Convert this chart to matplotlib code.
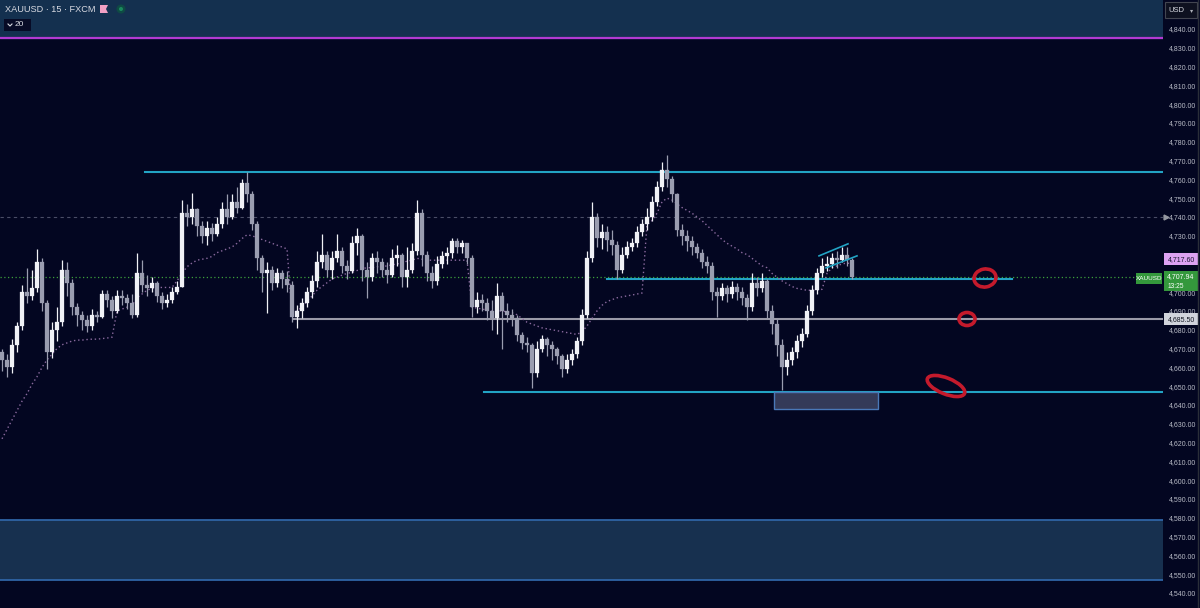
import matplotlib
matplotlib.use("Agg")
import matplotlib.pyplot as plt
import numpy as np
from matplotlib.patches import Rectangle, Ellipse, Polygon
from matplotlib.transforms import blended_transform_factory

# ---------------- data (15-min XAUUSD candles) ----------------
open_first = 4668.0
close = [4664, 4660, 4672, 4682, 4700, 4698, 4702, 4716, 4694, 4668,
         4680, 4684, 4712, 4705, 4692, 4688, 4685, 4682, 4688, 4687,
         4699, 4696, 4690, 4698, 4697, 4694, 4688, 4710, 4704, 4702,
         4705, 4698, 4694, 4696, 4700, 4703, 4742, 4740, 4744, 4735,
         4730, 4734, 4731, 4736, 4744, 4740, 4748, 4745, 4758, 4752,
         4736, 4718, 4710, 4712, 4705, 4710, 4707, 4704, 4687, 4690,
         4694, 4700, 4706, 4716, 4720, 4712, 4718, 4722, 4714, 4711,
         4726, 4730, 4712, 4708, 4718, 4716, 4712, 4709, 4718, 4720,
         4708, 4712, 4722, 4742, 4720, 4710, 4706, 4715, 4719, 4721,
         4727, 4724, 4726, 4718, 4692, 4696, 4694, 4690, 4686, 4698,
         4690, 4688, 4686, 4677, 4673, 4672, 4657, 4670, 4675, 4672,
         4670, 4666, 4659, 4664, 4667, 4674, 4688, 4718, 4740, 4729,
         4732, 4728, 4725, 4712, 4720, 4724, 4726, 4732, 4736, 4740,
         4748, 4756, 4765, 4760, 4752, 4733, 4730, 4727, 4724, 4721,
         4716, 4714, 4700, 4698, 4702, 4699, 4703, 4700, 4697, 4692,
         4705, 4702, 4706, 4690, 4683, 4672, 4660, 4664, 4668, 4674,
         4678, 4690, 4701, 4710, 4714, 4715, 4718, 4717, 4720, 4717,
         4707.94]
high = [4670, 4667, 4675, 4684, 4704, 4713, 4712, 4723, 4718, 4696,
        4684, 4692, 4717, 4716, 4707, 4694, 4690, 4688, 4691, 4690,
        4701, 4701, 4698, 4701, 4701, 4699, 4699, 4721, 4717, 4709,
        4708, 4706, 4700, 4699, 4703, 4706, 4749, 4747, 4753, 4745,
        4738, 4738, 4737, 4740, 4748, 4752, 4752, 4756, 4760, 4764,
        4754, 4738, 4720, 4716, 4714, 4713, 4712, 4711, 4706, 4693,
        4697, 4703, 4709, 4722, 4731, 4722, 4722, 4731, 4724, 4717,
        4730, 4734, 4731, 4716, 4721, 4722, 4718, 4716, 4723, 4725,
        4721, 4724, 4726, 4749, 4744, 4722, 4714, 4719, 4722, 4724,
        4729, 4729, 4728, 4726, 4720, 4700, 4699, 4697, 4696, 4705,
        4700, 4694, 4691, 4688, 4679, 4676, 4673, 4674, 4677, 4676,
        4674, 4671, 4667, 4667, 4670, 4676, 4691, 4722, 4748, 4742,
        4736, 4735, 4733, 4727, 4724, 4727, 4729, 4735, 4739, 4745,
        4751, 4759, 4769, 4773, 4762, 4753, 4736, 4733, 4730, 4726,
        4723, 4719, 4716, 4703, 4705, 4704, 4706, 4705, 4703, 4699,
        4710, 4708, 4710, 4707, 4693, 4686, 4675, 4668, 4671, 4677,
        4681, 4693, 4704, 4713, 4718, 4719, 4721, 4722, 4724, 4724,
        4718]
low = [4658, 4655, 4657, 4668, 4680, 4694, 4696, 4700, 4690, 4659,
       4665, 4674, 4682, 4698, 4688, 4682, 4680, 4679, 4680, 4684,
       4686, 4692, 4686, 4689, 4693, 4691, 4686, 4687, 4700, 4698,
       4700, 4695, 4691, 4692, 4694, 4699, 4703, 4735, 4736, 4730,
       4726, 4725, 4727, 4730, 4734, 4736, 4739, 4742, 4744, 4748,
       4733, 4712, 4700, 4689, 4701, 4703, 4702, 4700, 4684, 4681,
       4686, 4692, 4697, 4703, 4713, 4708, 4707, 4716, 4710, 4707,
       4710, 4720, 4706, 4697, 4706, 4710, 4708, 4705, 4708, 4714,
       4703, 4703, 4710, 4720, 4714, 4706, 4702, 4704, 4713, 4715,
       4718, 4721, 4721, 4715, 4687, 4689, 4690, 4685, 4680, 4678,
       4670, 4684, 4682, 4674, 4670, 4668, 4649, 4655, 4668, 4666,
       4664, 4662, 4655, 4657, 4661, 4665, 4672, 4686, 4716, 4724,
       4723, 4722, 4720, 4707, 4710, 4718, 4722, 4724, 4730, 4733,
       4738, 4746, 4754, 4756, 4748, 4730, 4725, 4722, 4720, 4718,
       4713, 4710, 4696, 4687, 4696, 4695, 4697, 4696, 4693, 4685,
       4690, 4698, 4700, 4686, 4678, 4666, 4648, 4656, 4661, 4665,
       4671, 4676, 4688, 4699, 4708, 4711, 4713, 4713, 4716, 4714,
       4707]
vwap = [4622, 4627, 4632, 4637, 4642, 4646, 4651, 4655, 4660, 4664,
        4667, 4670, 4672, 4673, 4674, 4674.5, 4674.5, 4674.8, 4675, 4675,
        4675.3, 4675.6, 4676, 4690, 4691, 4692, 4693, 4697, 4699, 4701,
        4702, 4702.5, 4702.5, 4702.5, 4702.5, 4706, 4710, 4713.5, 4715.5, 4717,
        4717.5, 4718, 4719, 4721, 4722, 4723, 4724, 4726, 4728.5, 4730.5,
        4730, 4729, 4728, 4727, 4726, 4725, 4724, 4723, 4689, 4690,
        4692, 4695, 4698, 4701, 4703, 4705, 4707, 4708, 4709, 4710,
        4710.5, 4711.5, 4712.5, 4713, 4713, 4713.5, 4713.5, 4714, 4714.5, 4715,
        4715.5, 4716.5, 4717, 4718, 4717.5, 4717, 4717, 4717, 4717, 4717,
        4717, 4717, 4717, 4717, 4692, 4691.5, 4691, 4690.5, 4690, 4690,
        4690, 4689.5, 4689, 4688, 4686, 4684, 4683, 4682, 4681, 4680.5,
        4680, 4679.5, 4679, 4678.5, 4678, 4677.5, 4679, 4682, 4686, 4690,
        4693, 4695, 4696, 4697, 4697.5, 4698, 4698.5, 4699, 4699.5, 4736,
        4738, 4742, 4748, 4750, 4749, 4747, 4745, 4743.5, 4742, 4740,
        4738, 4735.5, 4733, 4730.5, 4728, 4726, 4724.5, 4723, 4721, 4720,
        4718, 4716, 4714, 4713, 4710, 4708, 4706, 4704.5, 4703, 4702,
        4701.5, 4701, 4701, 4701, 4701.5, 4710, 4713, 4714, 4715, 4715.5,
        4715]

axis_ticks = list(range(4540, 4841, 10))
symbol_title = "XAUUSD · 15 · FXCM"
last_price = 4707.94
countdown = "13:25"
alert_price = 4717.60
level_price = 4685.50
cursor_price = 4740.0
resist_top = 4764.0
support_mid = 4707.0
support_low = 4647.0
top_band_line = 4835.2
bottom_zone = (4546.9, 4578.8)
demand_box = (4638.0, 4647.0)
channel_upper = [(163.4, 4719.3), (169.2, 4725.7)]
channel_lower = [(164.8, 4712.9), (171.0, 4719.3)]

# ---------------- figure ----------------
BG = "#030621"
W, H = 1200, 608
FONT = "Liberation Sans"
fig = plt.figure(figsize=(W / 100, H / 100), dpi=100, facecolor=BG)
ax = fig.add_axes([0, 0, 1163 / W, 1], facecolor=BG)
YMIN, YMAX = 4532.0, 4855.4
ax.set_ylim(YMIN, YMAX)
ax.set_xlim(-0.4, 232.2)
for s in ax.spines.values():
    s.set_visible(False)

n = len(close)
idx = np.arange(n)
opens = np.array([open_first] + close[:-1], dtype=float)
cl = np.array(close, dtype=float)
hi = np.array(high, dtype=float)
lo = np.array(low, dtype=float)
up = cl >= opens
UPC, DNC = "#f0f1f6", "#9a9db0"
cols = np.where(up, UPC, DNC)

# background drawings
ax.axhspan(top_band_line, YMAX + 5, color="#14304f", zorder=0)
ax.axhline(top_band_line, color="#b23ad2", lw=1.6, zorder=1)
ax.add_patch(Rectangle((-5, bottom_zone[0]), 300, bottom_zone[1] - bottom_zone[0],
                       facecolor="#17304f", edgecolor="#2f64a5", lw=1.3, zorder=1))
ax.axhline(cursor_price, color="#4a4d66", lw=0.8, ls=(0, (3, 3)), zorder=1)
ax.axhline(last_price, color="#3ca03c", lw=0.9, ls=(0, (1, 2)), zorder=1)

ax.plot([28.6, 300], [resist_top, resist_top], color="#22a3c4", lw=1.5, zorder=2)
ax.plot([121.0, 202.0], [support_mid, support_mid], color="#22a3c4", lw=1.5, zorder=2)
ax.plot([58.2, 300], [level_price, level_price], color="#9a9aa8", lw=1.5, zorder=2)
ax.plot([96.4, 300], [support_low, support_low], color="#22a3c4", lw=1.5, zorder=2)
ax.add_patch(Rectangle((154.4, demand_box[0]), 20.8, demand_box[1] - demand_box[0],
                       facecolor="#343a58", edgecolor="#4a78b8", lw=1.0, zorder=2))

# vwap-like dotted line
ax.plot(idx, vwap, color="#8a6a9e", lw=1.0, ls=(0, (1, 2)), zorder=3)

# candles
ax.vlines(idx, lo, hi, colors=cols, lw=0.9, zorder=4)
body_lo = np.minimum(opens, cl)
body_h = np.maximum(np.abs(cl - opens), 0.8)
ax.bar(idx, body_h, bottom=body_lo, width=0.64, color=cols, edgecolor=cols, lw=0.2, zorder=5)

# channel
ax.plot(*zip(*channel_upper), color="#22a3c4", lw=1.2, zorder=6)
ax.plot(*zip(*channel_lower), color="#22a3c4", lw=1.2, zorder=6)

# price axis
ax.yaxis.tick_right()
ax.set_yticks(axis_ticks)
ax.set_yticklabels([f"{v:,.2f}" for v in axis_ticks], family=FONT)
ax.tick_params(axis="y", length=0, pad=4, labelsize=5.0, labelcolor="#b8bbc6")
ax.set_xticks([])

# price labels on the axis
tr = blended_transform_factory(fig.transFigure, ax.transData)
def price_box(price, h, color, text, tcolor, x0=1164 / W, w=34 / W):
    ax.add_patch(Rectangle((x0, price - h / 2), w, h, transform=tr, facecolor=color,
                           edgecolor="none", clip_on=False, zorder=10))
    ax.text(x0 + w / 2, price, text, transform=tr, ha="center", va="center",
            fontsize=5.0, color=tcolor, clip_on=False, zorder=11, family=FONT)

price_box(alert_price, 6.4, "#dda2f2", f"{alert_price:,.2f}", "#1a1530")
ax.add_patch(Rectangle((1164 / W, 4700.6), 34 / W, 10.6, transform=tr, facecolor="#34983c",
                       edgecolor="none", clip_on=False, zorder=10))
ax.text(1181 / W, last_price + 0.3, f"{last_price:,.2f}", transform=tr, ha="center",
        va="center", fontsize=5.0, color="white", clip_on=False, zorder=11, family=FONT)
ax.text(1168 / W, 4703.2, countdown, transform=tr, ha="left", va="center",
        fontsize=4.8, color="white", clip_on=False, zorder=11, family=FONT)
ax.add_patch(Rectangle((1136 / W, 4704.6), 26 / W, 5.8, transform=tr, facecolor="#34983c",
                       edgecolor="none", clip_on=False, zorder=10))
ax.text(1149 / W, 4707.5, "XAUUSD", transform=tr, ha="center", va="center",
        fontsize=4.6, color="white", clip_on=False, zorder=11, family=FONT)
price_box(level_price, 6.4, "#d1d4dc", f"{level_price:,.2f}", "#131722")
ax.plot([1166 / W], [cursor_price], transform=tr, marker=">", ms=3.5, color="#9598a1",
        clip_on=False, zorder=11)

# ---------------- overlay (UI chrome & hand annotations, pixel space) ----------------
ov = fig.add_axes([0, 0, 1, 1], facecolor="none")
ov.set_xlim(0, W)
ov.set_ylim(H, 0)
ov.axis("off")
ov.text(5, 10, symbol_title, fontsize=6.6, color="#d8dae2", va="center", ha="left",
        family=FONT)
ov.add_patch(Polygon([(100, 5), (108, 5), (106, 9), (108, 13), (100, 13)], closed=True,
                     facecolor="#f2a0c4", edgecolor="none"))
ov.add_patch(Ellipse((121, 9), 9, 9, facecolor="#0f4a44", edgecolor="none"))
ov.add_patch(Ellipse((121, 9), 4, 4, facecolor="#1a8a5e", edgecolor="none"))
ov.add_patch(Rectangle((4, 19), 27, 12, facecolor="#070b26", edgecolor="none"))
ov.plot([8, 10, 12], [24, 26, 24], color="#d8dae2", lw=0.8)
ov.text(15, 25, "20", fontsize=6, color="#d8dae2", va="center", ha="left", family=FONT)
ov.add_patch(Rectangle((1165, 2), 32, 16, facecolor="#0e1120", edgecolor="#434651", lw=0.8))
ov.text(1168, 10, "USD", fontsize=5.5, color="#d8dae2", va="center", ha="left", family=FONT)
ov.text(1192, 10.5, "▾", fontsize=4.5, color="#b0b3bc", va="center", ha="center")
ov.plot([1198, 1198], [0, H], color="#2a2e39", lw=1)

RED = "#c41a2c"
ov.add_patch(Ellipse((985, 278), 22, 18, angle=-10, fill=False, edgecolor=RED, lw=2.6))
ov.add_patch(Ellipse((967, 319), 16, 13, angle=0, fill=False, edgecolor=RED, lw=2.6))
ov.add_patch(Ellipse((946, 386), 40, 16, angle=22, fill=False, edgecolor=RED, lw=2.6))

fig.savefig("out.png", dpi=100, facecolor=BG)
